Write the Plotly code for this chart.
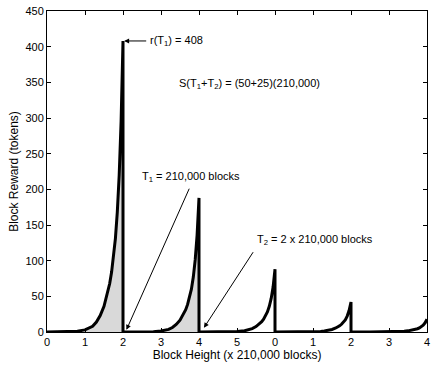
import plotly.graph_objects as go

# Position within each 2-unit cycle (x 210,000 blocks)
offsets = [0.0, 0.5, 0.8, 1.0, 1.2, 1.3, 1.4, 1.5, 1.6, 1.65, 1.7, 1.75, 1.8, 1.85, 1.9, 1.95, 2.0]
# Block reward for each cycle
cycle1 = [0.0, 0.3, 1.2, 3.0, 8, 14, 23, 36, 55, 68, 84, 105, 131, 168, 220, 295, 408]
cycle2 = [0.0, 0.1, 0.5, 1.4, 3.7, 6.3, 10.5, 16.5, 25.3, 31.3, 38.7, 48.4, 60, 77, 101, 136, 188]
cycle3 = [0.0, 0.1, 0.3, 0.6, 1.7, 2.9, 4.8, 7.6, 11.7, 14.5, 18, 22.6, 28, 36, 47, 63, 88]
cycle4 = [0.0, 0.0, 0.1, 0.3, 0.8, 1.4, 2.3, 3.6, 5.6, 6.9, 8.6, 10.8, 13.4, 17, 22.3, 30, 42]
cycle5 = [0.0, 0.0, 0.1, 0.1, 0.4, 0.6, 1.0, 1.6, 2.4, 3.0, 3.7, 4.6, 5.8, 7.3, 9.6, 12.9, 18]
cycles = [cycle1, cycle2, cycle3, cycle4, cycle5]

tick_vals = list(range(11))
tick_text = ["0", "1", "2", "3", "4", "5", "0", "1", "2", "3", "4"]
y_ticks = list(range(0, 451, 50))

fig = go.Figure()

# shaded areas (second half of the first two cycles)
for i in range(2):
    xs = [2 * i + o for o in offsets if o >= 1.0]
    ys = [v for o, v in zip(offsets, cycles[i]) if o >= 1.0]
    xs = [xs[0]] + xs + [xs[-1]]
    ys = [0] + ys + [0]
    fig.add_trace(go.Scatter(x=xs, y=ys, mode="lines", fill="toself",
                             fillcolor="#d9d9d9", line=dict(width=0, color="#d9d9d9"),
                             hoverinfo="skip", showlegend=False))

X, Y = [], []
for i, c in enumerate(cycles):
    X += [2 * i + o for o in offsets]
    Y += c
    if i < len(cycles) - 1:
        X.append(2 * i + 2)
        Y.append(0)

fig.add_trace(go.Scatter(x=X, y=Y, mode="lines", line=dict(color="black", width=3),
                         showlegend=False))

font = dict(family="Liberation Sans, Arial, sans-serif", size=11, color="black")

ann = []
def text(x, y, t):
    ann.append(dict(x=x, y=y, text=t, showarrow=False, xanchor="left", yanchor="middle",
                    xref="x", yref="y", font=font))
def arrow(x0, y0, x1, y1):
    ann.append(dict(x=x1, y=y1, ax=x0, ay=y0, axref="x", ayref="y", xref="x", yref="y",
                    text="", showarrow=True, arrowhead=2, arrowsize=1, arrowwidth=1,
                    arrowcolor="black", standoff=0, startstandoff=0))

text(2.66, 408, "r(T<sub>1</sub>) = 408")
arrow(2.65, 408, 2.03, 408)
text(3.42, 348, "S(T<sub>1</sub>+T<sub>2</sub>) = (50+25)(210,000)")
text(2.45, 217, "T<sub>1</sub> = 210,000 blocks")
arrow(3.76, 203, 2.09, 3)
text(5.47, 129, "T<sub>2</sub> = 2 x 210,000 blocks")
arrow(5.45, 114, 4.13, 6)

fig.update_layout(
    width=435, height=366,
    margin=dict(l=47, r=5, t=10, b=34),
    paper_bgcolor="white", plot_bgcolor="white",
    font=font,
    annotations=ann,
    xaxis=dict(range=[0, 10], tickvals=tick_vals, ticktext=tick_text,
               ticks="inside", ticklen=4, tickcolor="black", showgrid=False,
               zeroline=False, showline=True, linecolor="black", linewidth=1, mirror="ticks",
               title=dict(text="Block Height (x 210,000 blocks)", standoff=2,
                          font=dict(size=12))),
    yaxis=dict(range=[0, 450], tickvals=y_ticks,
               ticks="inside", ticklen=4, tickcolor="black", showgrid=False,
               zeroline=False, showline=True, linecolor="black", linewidth=1, mirror="ticks",
               title=dict(text="Block Reward (tokens)", standoff=4,
                          font=dict(size=12))),
)

fig.write_html("out.html", config={"displayModeBar": False},
               post_script="document.body.style.margin='0';document.body.style.overflow='hidden';")
